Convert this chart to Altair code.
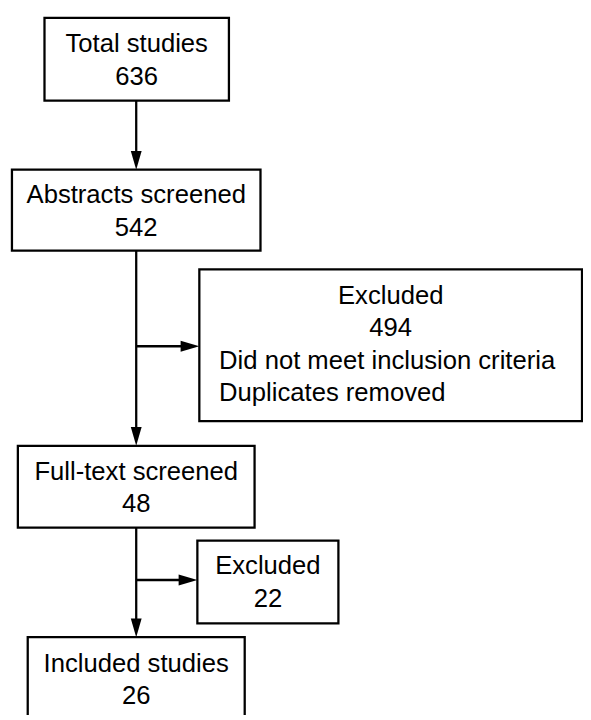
import altair as alt
import pandas as pd

# ---- content ----
stage_titles = ["Total studies", "Abstracts screened", "Full-text screened", "Included studies"]
stage_counts = [636, 542, 48, 26]
excl_titles = ["Excluded", "Excluded"]
excl_counts = [494, 22]
excl_reasons = [["Did not meet inclusion criteria", "Duplicates removed"], []]

# ---- layout (pixel coordinates of the drawing) ----
main_boxes = [(45, 232, 13, 97), (12, 264, 167, 249), (18, 258, 447, 530), (28, 248, 641, 725)]
excl_boxes = [(202, 590, 268, 422), (200, 343, 543, 627)]
spine_x = 138
branch_y = [346, 583]
LINE = 33
FONT = "Liberation Sans"
FS = 26

boxes = []
for (x0, x1, y0, y1) in main_boxes + excl_boxes:
    boxes.append(dict(x=x0, x2=x1, y=y0, y2=y1))
boxes_df = pd.DataFrame(boxes)

texts = []
for (x0, x1, y0, y1), t, c in zip(main_boxes, stage_titles, stage_counts):
    cy = (y0 + min(y1, 725)) / 2
    cx = (x0 + x1) / 2
    texts.append(dict(x=cx, y=cy - 7, t=t, a="center"))
    texts.append(dict(x=cx, y=cy + 26, t=str(c), a="center"))
# big excluded box
(x0, x1, y0, y1) = excl_boxes[0]
cx = (x0 + x1) / 2
texts.append(dict(x=cx, y=303, t=excl_titles[0], a="center"))
texts.append(dict(x=cx, y=303 + LINE, t=str(excl_counts[0]), a="center"))
for i, r in enumerate(excl_reasons[0]):
    texts.append(dict(x=x0 + 20, y=303 + LINE * (2 + i), t=r, a="left"))
(x0, x1, y0, y1) = excl_boxes[1]
cx = (x0 + x1) / 2
texts.append(dict(x=cx, y=577, t=excl_titles[1], a="center"))
texts.append(dict(x=cx, y=610, t=str(excl_counts[1]), a="center"))
texts_df = pd.DataFrame(texts)

# connector lines
lines = []
for i in range(3):
    lines.append(dict(x=spine_x, x2=spine_x, y=main_boxes[i][3], y2=main_boxes[i + 1][2] - 10))
for by, eb in zip(branch_y, excl_boxes):
    lines.append(dict(x=spine_x, x2=eb[0] - 10, y=by, y2=by))
lines_df = pd.DataFrame(lines)

down_tips = pd.DataFrame([dict(x=spine_x, y=main_boxes[i + 1][2]) for i in range(3)])
right_tips = pd.DataFrame([dict(x=eb[0], y=by) for by, eb in zip(branch_y, excl_boxes)])

W, H = 583, 712
xs = alt.Scale(domain=[8, 8 + W], range=[0, W])
ys = alt.Scale(domain=[8 + H, 8], range=[H, 0])

X = lambda f="x": alt.X(f"{f}:Q", scale=xs, axis=None)
Y = lambda f="y": alt.Y(f"{f}:Q", scale=ys, axis=None)

rects = alt.Chart(boxes_df).mark_rect(fill="white", stroke="black", strokeWidth=2.3, clip=True).encode(
    x=X(), x2="x2:Q", y=Y(), y2="y2:Q")

rules = alt.Chart(lines_df).mark_rule(color="black", strokeWidth=2.3).encode(
    x=X(), x2="x2:Q", y=Y(), y2="y2:Q")

L = 19.0
hw = 5.5 / L
down_shape = f"M {-hw},-1 L {hw},-1 L 0,0 Z"
right_shape = f"M -1,{-hw} L -1,{hw} L 0,0 Z"
size = (2 * L) ** 2

down = alt.Chart(down_tips).mark_point(shape=down_shape, filled=True, color="black", size=size, opacity=1).encode(
    x=X(), y=Y())
right = alt.Chart(right_tips).mark_point(shape=right_shape, filled=True, color="black", size=size, opacity=1).encode(
    x=X(), y=Y())

txt_c = alt.Chart(texts_df[texts_df.a == "center"]).mark_text(
    font=FONT, fontSize=FS, color="black", align="center", baseline="alphabetic").encode(
    x=X(), y=Y(), text="t:N")
txt_l = alt.Chart(texts_df[texts_df.a == "left"]).mark_text(
    font=FONT, fontSize=FS, color="black", align="left", baseline="alphabetic").encode(
    x=X(), y=Y(), text="t:N")

chart = alt.layer(rules, rects, down, right, txt_c, txt_l).properties(
    width=W, height=H, padding=0, background="white"
).configure_view(stroke=None)

chart.save("out.html", embed_options={"renderer": "svg", "actions": False})
